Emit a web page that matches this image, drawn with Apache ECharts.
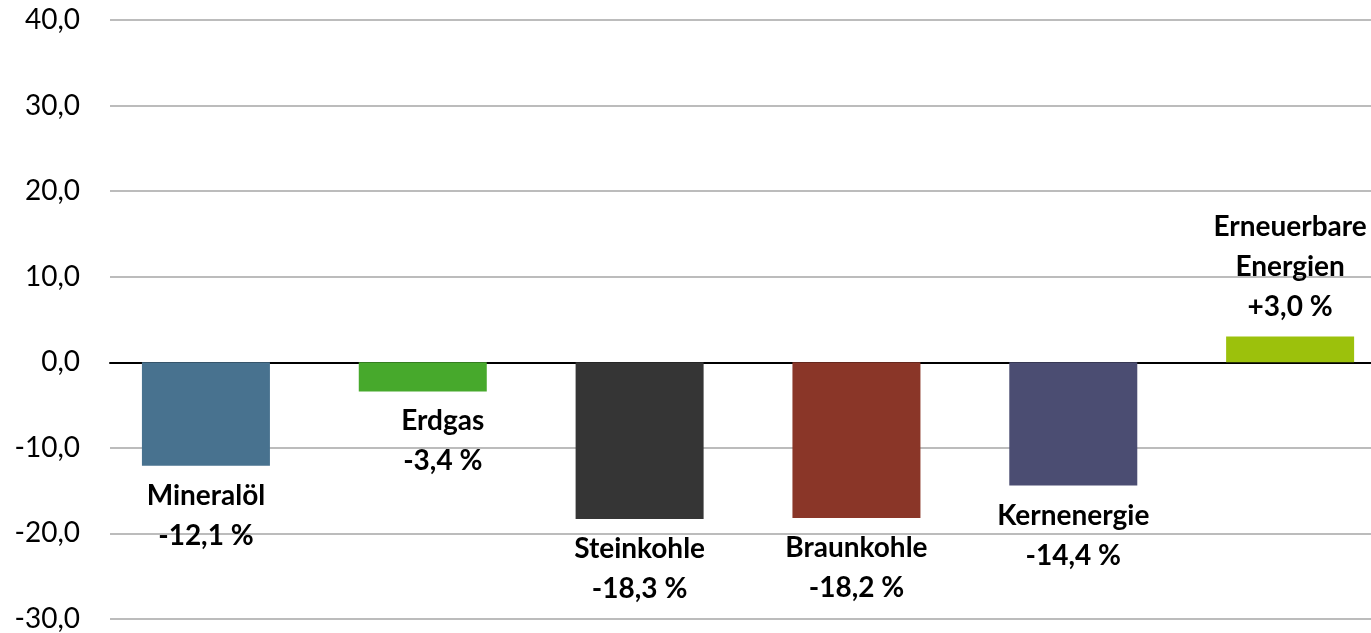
<!DOCTYPE html>
<html>
<head>
<meta charset="utf-8">
<script src="https://cdn.jsdelivr.net/npm/echarts@6/dist/echarts.min.js"></script>
<style>
    html, body { margin: 0; padding: 0; background: #fff; }
    #chart { width: 1371px; height: 633px; }
</style>
</head>
<body>
<div id="chart"></div>
<script>
// Veränderung des Primärenergieverbrauchs nach Energieträgern
const categories = ['Mineralöl', 'Erdgas', 'Steinkohle', 'Braunkohle', 'Kernenergie', 'Erneuerbare\nEnergien'];
const values = [-12.1, -3.4, -18.3, -18.2, -14.4, 3.0];
const colors = ['#48728f', '#47a92c', '#353535', '#8a3628', '#4b4d72', '#9cc10c'];
const yTicks = [-30, -20, -10, 0, 10, 20, 30, 40];

function fmt(v, sign) {
    let s = v.toFixed(1).replace('.', ',');
    if (sign && v > 0) s = '+' + s;
    return s;
}

const chart = echarts.init(document.getElementById('chart'));

const data = values.map((v, i) => ({
    value: [i, v],
    itemStyle: { color: colors[i] },
    label: {
        offset: i === 1 ? [20, 0] : [0, 0]
    }
}));

chart.setOption({
    animation: false,
    grid: { left: 110, right: 0, top: 20, bottom: 11 },
    xAxis: {
        type: 'value',
        min: -0.4424,
        max: 5.373,
        axisLine: { onZero: true, lineStyle: { color: '#000', width: 2 } },
        axisTick: { show: false },
        axisLabel: { show: false },
        splitLine: { show: false }
    },
    yAxis: {
        type: 'value',
        min: yTicks[0],
        max: yTicks[yTicks.length - 1],
        interval: 10,
        axisLine: { show: false },
        axisTick: { show: false },
        axisLabel: {
            formatter: v => fmt(v, false),
            fontFamily: 'Lato',
            fontSize: 28,
            color: '#000',
            margin: 30
        },
        splitLine: { lineStyle: { color: '#a6a6a6', width: 1.5 } }
    },
    series: [{
        type: 'bar',
        barWidth: 128,
        data: data,
        label: {
            show: true,
            position: 'outside',
            distance: 10,
            fontFamily: 'Lato',
            fontWeight: 'bold',
            fontSize: 28,
            lineHeight: 40,
            color: '#000',
            formatter: p => categories[p.dataIndex] + '\n' + fmt(p.value[1], true) + ' %'
        }
    }]
});
</script>
</body>
</html>
